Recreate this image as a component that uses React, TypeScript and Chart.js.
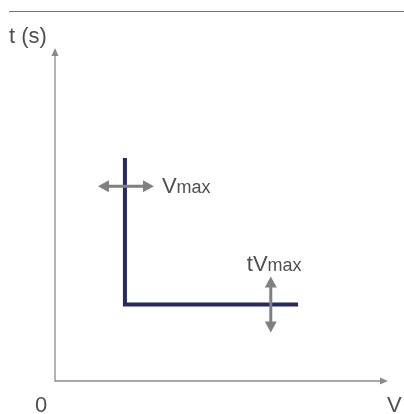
import React, { useEffect, useRef } from "react";
import { Chart, registerables } from "chart.js";

Chart.register(...registerables);

// Characteristic curve (V, t)
const curveV: number[] = [2.1, 2.1, 7.3];
const curveT: number[] = [6.7, 2.3, 2.3];
const vMax = 2.1;
const tVmax = 2.3;
const vMaxMarkerT = 5.85;
const tVmaxMarkerV = 6.48;
const xLabel = "V";
const yLabel = "t (s)";
const originLabel = "0";

const NAVY = "#262a5f";
const GRAY = "#808080";
const AXIS = "#8a8a8a";
const TEXT = "#505050";
const FONT = "'Liberation Sans', Arial, sans-serif";

function arrowHead(ctx: CanvasRenderingContext2D, x: number, y: number, dir: "up" | "down" | "left" | "right", len: number, half: number) {
  ctx.beginPath();
  if (dir === "up") { ctx.moveTo(x, y); ctx.lineTo(x - half, y + len); ctx.lineTo(x + half, y + len); }
  if (dir === "down") { ctx.moveTo(x, y); ctx.lineTo(x - half, y - len); ctx.lineTo(x + half, y - len); }
  if (dir === "left") { ctx.moveTo(x, y); ctx.lineTo(x + len, y - half); ctx.lineTo(x + len, y + half); }
  if (dir === "right") { ctx.moveTo(x, y); ctx.lineTo(x - len, y - half); ctx.lineTo(x - len, y + half); }
  ctx.closePath();
  ctx.fill();
}

function subText(ctx: CanvasRenderingContext2D, x: number, y: number, main: string, sub: string) {
  ctx.font = `22px ${FONT}`;
  ctx.fillText(main, x, y);
  const w = ctx.measureText(main).width;
  ctx.font = `18px ${FONT}`;
  ctx.fillText(sub, x + w, y);
}

const overlay = {
  id: "overlay",
  beforeDatasetsDraw(chart: any) {
    const ctx: CanvasRenderingContext2D = chart.ctx;
    const { left, top, right, bottom } = chart.chartArea;
    ctx.save();
    // top rule
    ctx.strokeStyle = "#777";
    ctx.lineWidth = 1.2;
    ctx.beginPath();
    ctx.moveTo(9, 11.5);
    ctx.lineTo(404, 11.5);
    ctx.stroke();
    // axes
    ctx.strokeStyle = AXIS;
    ctx.fillStyle = AXIS;
    ctx.lineWidth = 1.3;
    ctx.beginPath();
    ctx.moveTo(left, top + 6);
    ctx.lineTo(left, bottom);
    ctx.lineTo(right - 6, bottom);
    ctx.stroke();
    arrowHead(ctx, left, top, "up", 8, 3.5);
    arrowHead(ctx, right, bottom, "right", 8, 3.5);
    // axis labels
    ctx.fillStyle = TEXT;
    ctx.font = `22px ${FONT}`;
    ctx.textBaseline = "alphabetic";
    ctx.textAlign = "left";
    ctx.fillText(yLabel, 9, 43);
    ctx.fillText(originLabel, 35, 412);
    ctx.fillText(xLabel, 387, 412);
    ctx.restore();
  },
  afterDatasetsDraw(chart: any) {
    const ctx: CanvasRenderingContext2D = chart.ctx;
    const xs = chart.scales.x;
    const ys = chart.scales.y;
    ctx.save();
    ctx.strokeStyle = GRAY;
    ctx.fillStyle = GRAY;
    ctx.lineWidth = 3;
    // Vmax horizontal double arrow
    const vx = xs.getPixelForValue(vMax);
    const vy = ys.getPixelForValue(vMaxMarkerT);
    ctx.beginPath();
    ctx.moveTo(vx - 18, vy);
    ctx.lineTo(vx + 20, vy);
    ctx.stroke();
    arrowHead(ctx, vx - 27, vy, "left", 11, 6);
    arrowHead(ctx, vx + 29, vy, "right", 11, 6);
    // tVmax vertical double arrow
    const tx = xs.getPixelForValue(tVmaxMarkerV);
    const ty = ys.getPixelForValue(tVmax);
    ctx.beginPath();
    ctx.moveTo(tx, ty - 18);
    ctx.lineTo(tx, ty + 18);
    ctx.stroke();
    arrowHead(ctx, tx, ty - 28, "up", 11, 6);
    arrowHead(ctx, tx, ty + 28, "down", 11, 6);
    // labels
    ctx.fillStyle = TEXT;
    ctx.textAlign = "left";
    ctx.textBaseline = "alphabetic";
    subText(ctx, vx + 37, vy + 7, "V", "max");
    subText(ctx, tx - 24, ty - 33, "tV", "max");
    ctx.restore();
  },
};

export default function App() {
  const ref = useRef<HTMLCanvasElement | null>(null);
  useEffect(() => {
    document.body.style.margin = "0";
    const chart = new Chart(ref.current as HTMLCanvasElement, {
      type: "scatter",
      data: {
        datasets: [
          {
            data: curveV.map((v, i) => ({ x: v, y: curveT[i] })),
            showLine: true,
            borderColor: NAVY,
            borderWidth: 4,
            pointRadius: 0,
            borderJoinStyle: "miter",
            borderCapStyle: "butt",
            fill: false,
          },
        ],
      },
      options: {
        responsive: false,
        animation: false,
        layout: { padding: { left: 55, right: 16, top: 48, bottom: 33 } },
        plugins: { legend: { display: false }, tooltip: { enabled: false } },
        scales: {
          x: { type: "linear", min: 0, max: 10, display: false },
          y: { type: "linear", min: 0, max: 10, display: false },
        },
      },
      plugins: [overlay],
    } as any);
    return () => chart.destroy();
  }, []);
  return <canvas ref={ref} width={404} height={414} style={{ display: "block" }} />;
}
